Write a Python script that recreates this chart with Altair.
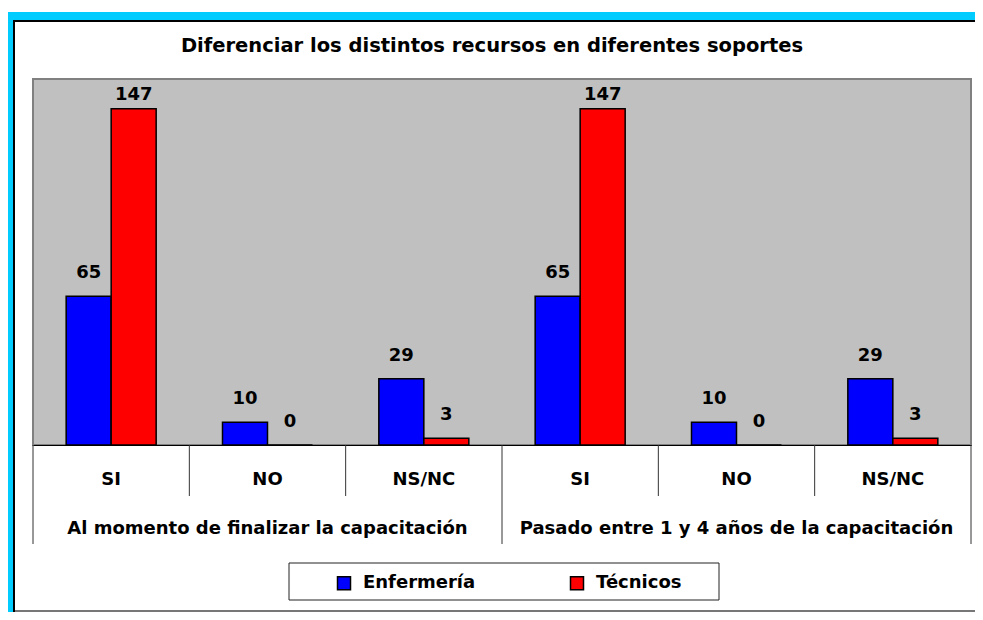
import altair as alt
import pandas as pd

TITLE = "Diferenciar los distintos recursos en diferentes soportes"
groups = ["Al momento de finalizar la capacitación",
          "Pasado entre 1 y 4 años de la capacitación"]
categories = ["SI", "NO", "NS/NC"]
series = ["Enfermería", "Técnicos"]
enfermeria = [65, 10, 29, 65, 10, 29]
tecnicos = [147, 0, 3, 147, 0, 3]
colors = ["#0000FF", "#FF0000"]

keys = [f"{gi}|{c}" for gi in range(len(groups)) for c in categories]
rows = []
for i, k in enumerate(keys):
    rows.append({"key": k, "series": series[0], "value": enfermeria[i]})
    rows.append({"key": k, "series": series[1], "value": tecnicos[i]})
df = pd.DataFrame(rows)

group_df = pd.DataFrame({"key": [f"{gi}|{categories[1]}" for gi in range(len(groups))],
                         "label": groups})
short_df = pd.DataFrame({"key": [k for k in keys if not k.endswith("|" + categories[0])]})
long_df = pd.DataFrame({"key": [k for k in keys if k.endswith("|" + categories[0])]})
end_df = pd.DataFrame({"key": [keys[-1]]})
one = pd.DataFrame({"d": [0]})

W, H = 938, 366
FONT = "DejaVu Sans"

xscale = alt.Scale(domain=keys, paddingInner=0, paddingOuter=0)
yscale = alt.Scale(domain=[0, 160], nice=False, zero=True)
xoff = alt.XOffset("series:N", scale=alt.Scale(domain=series, paddingInner=0, paddingOuter=0.737))

xaxis = alt.Axis(title=None, ticks=False, grid=False,
                 labelExpr="split(datum.label, '|')[1]",
                 labelFont=FONT, labelFontSize=18, labelFontWeight="bold",
                 labelColor="black", labelPadding=34, labelBaseline="middle",
                 labelAngle=0, domainColor="black", domainWidth=1)

legend = alt.Legend(orient="none", legendX=302, legendY=495, direction="horizontal",
                    title=None, symbolType="square", symbolSize=169,
                    symbolStrokeColor="black", symbolStrokeWidth=1.5,
                    labelFont=FONT, labelFontSize=18, labelFontWeight="bold",
                    labelColor="black", columnPadding=91, labelOffset=10, padding=0)

X = alt.X("key:N", scale=xscale, axis=xaxis, sort=keys)

# decorative frame (drawn first, behind)
def deco(x, x2, y, y2, color):
    return alt.Chart(one).mark_rect(color=color).encode(
        x=alt.value(x), x2=alt.value(x2), y=alt.value(y), y2=alt.value(y2))

frame = [
    deco(-25, 950, -67, -59, "#00CCFF"),
    deco(-25, -20, -67, 533, "#00CCFF"),
    deco(-20, 950, -59, -57, "#000000"),
    deco(-20, -18, -59, 533, "#000000"),
    deco(-18, 950, 531, 533, "#777777"),
]

legend_box = alt.Chart(one).mark_rect(fill="white", stroke="#222222", strokeWidth=1).encode(
    x=alt.value(256), x2=alt.value(686), y=alt.value(484), y2=alt.value(521))

bars = alt.Chart(df).mark_bar(stroke="black", strokeWidth=1.5).encode(
    x=X,
    xOffset=xoff,
    y=alt.Y("value:Q", scale=yscale, axis=None),
    color=alt.Color("series:N", scale=alt.Scale(domain=series, range=colors),
                    sort=series, legend=legend),
)

labels = alt.Chart(df).transform_calculate(
    label_y="min(datum.value + 7.9, 150.8)"
).mark_text(font=FONT, fontSize=18, fontWeight="bold", color="black",
            baseline="alphabetic").encode(
    x=X, xOffset=xoff,
    y=alt.Y("label_y:Q", scale=yscale, axis=None),
    text="value:Q",
)

short_rules = alt.Chart(short_df).mark_rule(color="#333333", strokeWidth=1).encode(
    x=alt.X("key:N", scale=xscale, axis=xaxis, sort=keys, bandPosition=0),
    y=alt.value(H), y2=alt.value(H + 51))
long_rules = alt.Chart(long_df).mark_rule(color="#333333", strokeWidth=1).encode(
    x=alt.X("key:N", scale=xscale, axis=xaxis, sort=keys, bandPosition=0),
    y=alt.value(H), y2=alt.value(H + 99))
end_rule = alt.Chart(end_df).mark_rule(color="#333333", strokeWidth=1).encode(
    x=alt.X("key:N", scale=xscale, axis=xaxis, sort=keys, bandPosition=1),
    y=alt.value(H), y2=alt.value(H + 99))

group_labels = alt.Chart(group_df).mark_text(
    font=FONT, fontSize=18, fontWeight="bold", color="black", baseline="middle"
).encode(x=X, y=alt.value(H + 84), text="label:N")

chart = alt.layer(
    *frame, legend_box, bars, labels, short_rules, long_rules, end_rule, group_labels
).properties(
    width=W, height=H,
    autosize=alt.AutoSizeParams(type="none"),
    padding={"left": 25, "top": 71, "right": 4, "bottom": 167},
    background="white",
    title=alt.TitleParams(TITLE, font=FONT, fontSize=19.5, fontWeight="bold",
                          color="black", anchor="middle", frame="group",
                          baseline="middle", offset=0, dy=53, dx=-10),
).configure_view(
    fill="#C0C0C0", stroke="#808080", strokeWidth=2
)

chart.save("out.html", embed_options={"renderer": "svg", "actions": False})
